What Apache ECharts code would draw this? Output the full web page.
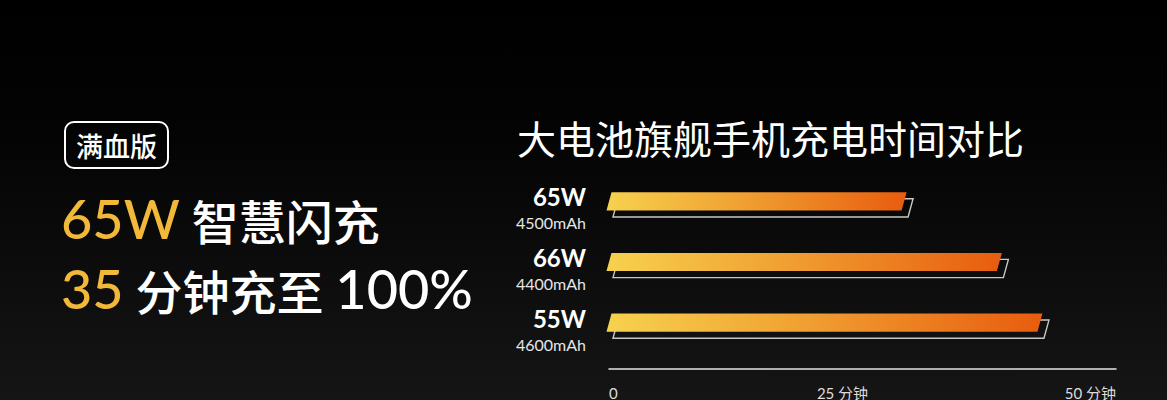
<!DOCTYPE html>
<html>
<head>
<meta charset="utf-8">
<script src="https://cdn.jsdelivr.net/npm/echarts@6/dist/echarts.min.js"></script>
<style>
html,body{margin:0;padding:0;width:1167px;height:400px;overflow:hidden;background:#000;}
#chart{width:1167px;height:400px;background:linear-gradient(to bottom,#000 0%,#040404 35%,#151515 100%);}
</style>
</head>
<body>
<div id="chart"></div>
<script>
// ---- data ----
var categories = ['65W', '66W', '55W'];
var capacities = ['4500mAh', '4400mAh', '4600mAh'];
var chargeMinutes = [29.1, 38.5, 42.5];
var tickValues = [0, 25, 50];
var tickLabels = ['0', '25 分钟', '50 分钟'];
var titleText = '大电池旗舰手机充电时间对比';
var badgeText = '满血版';
var headline1 = ['65W', ' 智慧闪充'];
var headline2 = ['35', ' 分钟充至 ', '100%'];

var FONT = "Lato, 'Noto Sans CJK SC', sans-serif";
var GOLD = '#f1b83a';

var chart = echarts.init(document.getElementById('chart'), null, {renderer: 'svg'});

var seriesData = chargeMinutes.map(function (v, i) { return [v, i]; });

function renderBar(params, api) {
  var c = api.value(1);
  var v = api.value(0);
  var p0 = api.coord([0, c]);
  var p1 = api.coord([v, c]);
  var band = api.size([0, 1])[1];
  var h = band * 0.3;
  var s = 2.5;
  var cy = p0[1];
  var top = cy - h / 2, bot = cy + h / 2;
  var dx = 6.5, dy = 6.5;
  var outline = [
    [p0[0] - s + dx, bot + dy], [p0[0] + s + dx, top + dy],
    [p1[0] + s + dx, top + dy], [p1[0] - s + dx, bot + dy]
  ];
  var bar = [
    [p0[0] - s, bot], [p0[0] + s, top],
    [p1[0] + s, top], [p1[0] - s, bot]
  ];
  return {
    type: 'group',
    children: [
      {type: 'polygon', shape: {points: outline},
       style: {fill: 'none', stroke: '#c8c8c8', lineWidth: 1.4}},
      {type: 'polygon', shape: {points: bar},
       style: {fill: new echarts.graphic.LinearGradient(0, 0, 1, 0, [
         {offset: 0, color: '#f7d24e'},
         {offset: 0.45, color: '#f0a032'},
         {offset: 1, color: '#e85c0e'}
       ])}}
    ]
  };
}

var latin = function (color) {
  return {fill: color, fontSize: 54, fontWeight: 500, fontFamily: FONT, verticalAlign: 'bottom', lineHeight: 60};
};
var cjk = {fill: '#ffffff', fontSize: 47, fontWeight: 500, fontFamily: FONT, verticalAlign: 'bottom', lineHeight: 60};

var option = {
  backgroundColor: 'transparent',
  animation: false,
  title: {
    text: titleText,
    left: 512, top: 114,
    textStyle: {color: '#ffffff', fontSize: 39, fontWeight: 400, fontFamily: FONT, lineHeight: 40}
  },
  grid: {left: 609, right: 51, top: 171, bottom: 40, containLabel: false},
  xAxis: {
    type: 'value', min: 0, max: 50, interval: 25, offset: 16,
    axisLine: {show: true, lineStyle: {color: '#e6e6e6', width: 1.5}},
    axisTick: {show: false},
    splitLine: {show: false},
    axisLabel: {
      color: '#dddddd', fontSize: 15, fontFamily: FONT, margin: 16,
      alignMinLabel: 'left', alignMaxLabel: 'right',
      formatter: function (val) {
        var idx = tickValues.indexOf(val);
        var t = idx >= 0 ? tickLabels[idx] : '';
        if (val === 25) return '{m|' + t + '}';
        return t;
      },
      rich: {m: {color: '#dddddd', fontSize: 15, fontFamily: FONT, padding: [0, 40, 0, 0]}}
    }
  },
  yAxis: {
    type: 'category', data: categories, inverse: true,
    axisLine: {show: false}, axisTick: {show: false}, splitLine: {show: false},
    axisLabel: {
      margin: 23, align: 'right', padding: [17, 0, 0, 0],
      formatter: function (val, idx) {
        return '{a|' + val + '}\n{b|' + capacities[idx] + '}';
      },
      rich: {
        a: {color: '#ffffff', fontSize: 24, fontWeight: 700, fontFamily: FONT, lineHeight: 26, align: 'right'},
        b: {color: '#e6e6e6', fontSize: 16, fontWeight: 400, fontFamily: FONT, lineHeight: 26, align: 'right'}
      }
    }
  },
  graphic: [
    {type: 'rect', shape: {x: 65, y: 122, width: 103, height: 46, r: 9},
     style: {fill: 'none', stroke: '#ffffff', lineWidth: 2}},
    {type: 'text', x: 116.5, y: 146,
     style: {text: badgeText, fill: '#ffffff', fontSize: 27, fontWeight: 500, fontFamily: FONT,
             textAlign: 'center', textVerticalAlign: 'middle'}},
    {type: 'text', x: 61, y: 215,
     style: {
       text: '{g|' + headline1[0] + '}{w|' + headline1[1] + '}',
       textVerticalAlign: 'middle',
       rich: {g: latin(GOLD), w: cjk}
     }},
    {type: 'text', x: 61, y: 285,
     style: {
       text: '{g|' + headline2[0] + '}{w|' + headline2[1] + '}{n|' + headline2[2] + '}',
       textVerticalAlign: 'middle',
       rich: {g: latin(GOLD), w: cjk, n: latin('#ffffff')}
     }}
  ],
  series: [{
    type: 'custom',
    renderItem: renderBar,
    encode: {x: 0, y: 1},
    data: seriesData
  }]
};
chart.setOption(option);
</script>
</body>
</html>
